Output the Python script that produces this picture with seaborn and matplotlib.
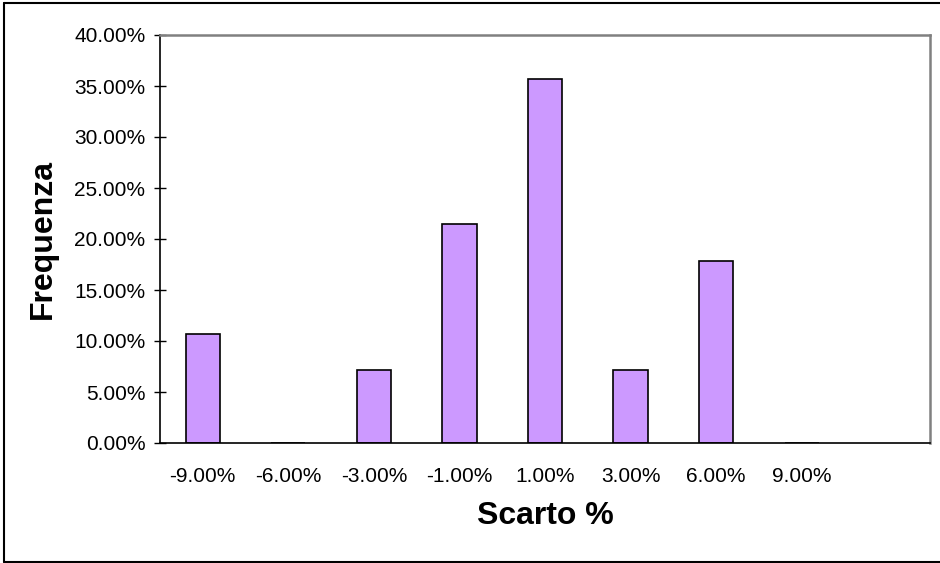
import matplotlib
matplotlib.use("Agg")
import matplotlib.pyplot as plt
import seaborn as sns
import pandas as pd
from matplotlib.ticker import PercentFormatter, FixedLocator
from matplotlib.lines import Line2D

# Frequency distribution of the percentage deviation
categories = ["-9.00%", "-6.00%", "-3.00%", "-1.00%", "1.00%", "3.00%", "6.00%", "9.00%"]
frequency = [10.71, 0.0, 7.14, 21.43, 35.71, 7.14, 17.86, 0.0]
y_ticks = [0, 5, 10, 15, 20, 25, 30, 35, 40]

sns.set_style("white")
plt.rcParams["font.family"] = ["Liberation Sans", "DejaVu Sans"]
plt.rcParams["text.color"] = "black"
plt.rcParams["axes.labelcolor"] = "black"
plt.rcParams["xtick.color"] = "black"
plt.rcParams["ytick.color"] = "black"

df = pd.DataFrame({"Scarto": categories, "Frequenza": frequency})

W, H = 940, 563
fig = plt.figure(figsize=(W / 100, H / 100), dpi=100)
ax = fig.add_axes([160 / W, 1 - 443 / H, (930 - 160) / W, (443 - 35) / H])

sns.barplot(data=df, x="Scarto", y="Frequenza", order=categories, color="#CC99FF",
            saturation=1, width=0.4, edgecolor="black", linewidth=1.2, ax=ax)

n_slots = len(categories) + 1
ax.set_xlim(-0.5, n_slots - 0.5)
ax.set_ylim(0, 40)

# category boundaries carry the tick marks, centres carry the labels
ax.xaxis.set_major_locator(FixedLocator([i - 0.5 for i in range(n_slots + 1)]))
ax.xaxis.set_minor_locator(FixedLocator(list(range(len(categories)))))
ax.set_xticklabels([], minor=False)
ax.set_xticklabels(categories, minor=True)
ax.tick_params(axis="x", which="major", direction="inout", length=9, width=1, color="black")
ax.tick_params(axis="x", which="minor", length=0, pad=17, labelsize=15, labelcolor="black")

ax.yaxis.set_major_locator(FixedLocator(y_ticks))
ax.yaxis.set_major_formatter(PercentFormatter(xmax=100, decimals=2))
ax.tick_params(axis="y", direction="inout", length=9, width=1, color="black",
               pad=6, labelsize=15, labelcolor="black", left=True)

for side in ("left", "bottom"):
    ax.spines[side].set_color("black")
    ax.spines[side].set_linewidth(1.2)
for side in ("top", "right"):
    ax.spines[side].set_visible(True)
    ax.spines[side].set_color("#808080")
    ax.spines[side].set_linewidth(1.8)

ax.set_xlabel("Scarto %", fontsize=23, fontweight="bold", labelpad=11, color="black")
ax.set_ylabel("Frequenza", fontsize=23, fontweight="bold", labelpad=12, color="black")

# chart-area frame
fx = lambda px: px / W
fy = lambda py: 1 - py / H
for xs, ys in [((4, W), (3, 3)), ((4, 4), (3, 562)), ((4, W), (562, 562))]:
    fig.add_artist(Line2D([fx(xs[0]), fx(xs[1])], [fy(ys[0]), fy(ys[1])],
                          color="black", linewidth=1.5))

fig.savefig("out.png", dpi=100)
